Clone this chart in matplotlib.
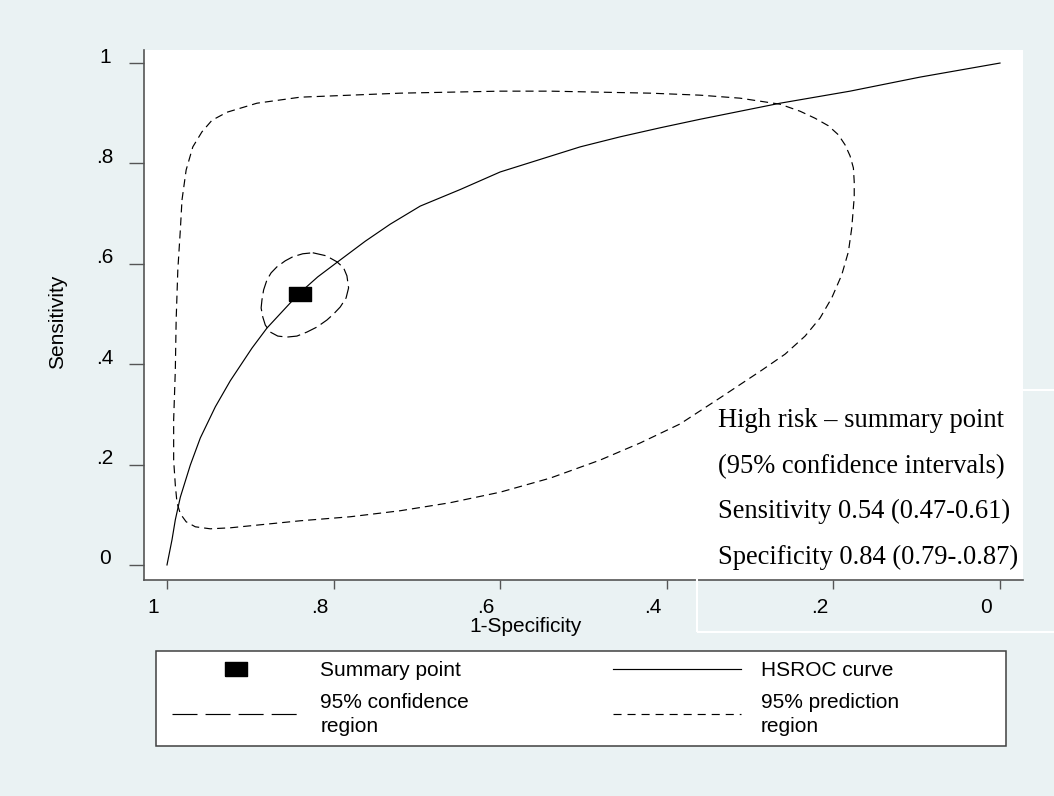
import matplotlib
matplotlib.use("Agg")
import matplotlib.pyplot as plt
import matplotlib.transforms as mtransforms
from matplotlib.lines import Line2D
from matplotlib.patches import Rectangle

matplotlib.rc('font', family='Liberation Sans', size=15)
matplotlib.rcParams['lines.scale_dashes'] = False

# HSROC curve: specificity (x, reversed axis) and sensitivity
hsroc_spec = [1.000, 0.994, 0.990, 0.984, 0.972, 0.960, 0.942, 0.924, 0.898, 0.880,
              0.861, 0.842, 0.819, 0.795, 0.762, 0.732, 0.696, 0.648, 0.600, 0.504,
              0.456, 0.408, 0.360, 0.312, 0.264, 0.180, 0.096, 0.000]
hsroc_sens = [0.000, 0.050, 0.090, 0.135, 0.199, 0.253, 0.315, 0.367, 0.432, 0.472,
              0.506, 0.540, 0.574, 0.604, 0.645, 0.679, 0.715, 0.748, 0.783, 0.833,
              0.853, 0.871, 0.888, 0.904, 0.920, 0.944, 0.972, 1.000]

# summary operating point
summary_spec = [0.84]
summary_sens = [0.54]

# 95% confidence region around the summary point
conf_spec = [0.825, 0.809, 0.796, 0.788, 0.784, 0.782, 0.785, 0.792, 0.800, 0.808,
             0.820, 0.832, 0.844, 0.856, 0.867, 0.876, 0.882, 0.885, 0.887, 0.886,
             0.884, 0.880, 0.875, 0.868, 0.858, 0.849, 0.837, 0.825]
conf_sens = [0.622, 0.616, 0.604, 0.592, 0.576, 0.552, 0.532, 0.514, 0.500, 0.488,
             0.474, 0.464, 0.456, 0.454, 0.456, 0.464, 0.478, 0.494, 0.512, 0.528,
             0.548, 0.568, 0.582, 0.594, 0.606, 0.614, 0.620, 0.622]

# 95% prediction region
pred_spec = [0.982, 0.977, 0.969, 0.958, 0.946, 0.928, 0.892, 0.840, 0.780, 0.720,
             0.660, 0.600, 0.540, 0.480, 0.420, 0.360, 0.312, 0.264, 0.240, 0.222,
             0.206, 0.194, 0.186, 0.180, 0.176, 0.175, 0.175, 0.178, 0.182, 0.190,
             0.202, 0.216, 0.234, 0.258, 0.286, 0.336, 0.384, 0.432, 0.480, 0.540,
             0.600, 0.660, 0.720, 0.780, 0.840, 0.888, 0.924, 0.948, 0.966, 0.977,
             0.984, 0.988, 0.990, 0.992, 0.992, 0.990, 0.989, 0.987, 0.984, 0.982]
pred_sens = [0.727, 0.787, 0.833, 0.863, 0.886, 0.902, 0.920, 0.932, 0.936, 0.940,
             0.942, 0.944, 0.944, 0.942, 0.940, 0.936, 0.930, 0.918, 0.904, 0.890,
             0.875, 0.857, 0.837, 0.815, 0.791, 0.763, 0.733, 0.671, 0.624, 0.578,
             0.532, 0.492, 0.456, 0.420, 0.388, 0.333, 0.281, 0.243, 0.209, 0.173,
             0.145, 0.124, 0.108, 0.096, 0.088, 0.080, 0.074, 0.072, 0.076, 0.086,
             0.102, 0.124, 0.159, 0.209, 0.289, 0.388, 0.488, 0.588, 0.667, 0.727]

ticks = [1, 0.8, 0.6, 0.4, 0.2, 0]
tick_labels = ["1", ".8", ".6", ".4", ".2", "0"]

note_lines = ["High risk \u2013 summary point",
              "(95% confidence intervals)",
              "Sensitivity 0.54 (0.47-0.61)",
              "Specificity 0.84 (0.79-.0.87)"]

W, H = 1054, 796
bg = '#EAF2F3'
axis_col = '#555555'
lw = 0.85
rect_marker = [(-1, -0.61), (1, -0.61), (1, 0.61), (-1, 0.61), (-1, -0.61)]

fig = plt.figure(figsize=(W / 100, H / 100), dpi=100, facecolor=bg)
ax = fig.add_axes([144 / W, 1 - 580 / H, (1023 - 144) / W, (580 - 50) / H])
ax.set_facecolor('white')

ax.plot(pred_spec, pred_sens, color='black', lw=lw, dashes=(5.8, 3.6), zorder=2.6)
ax.plot(hsroc_spec, hsroc_sens, color='black', lw=lw, zorder=2.6)
ax.plot(conf_spec, conf_sens, color='black', lw=lw, dashes=(9.4, 3.6), zorder=2.6)
ax.plot(summary_spec, summary_sens, ls='none', marker=rect_marker, ms=16.5,
        color='black', zorder=5)

ax.set_xlim(1.0276, -0.0276)
ax.set_ylim(-0.030, 1.026)
for side in ['top', 'right']:
    ax.spines[side].set_visible(False)
for side in ['left', 'bottom']:
    ax.spines[side].set_color(axis_col)
    ax.spines[side].set_linewidth(1.2)

ax.set_xticks(ticks)
ax.set_xticklabels(tick_labels)
ax.set_yticks(ticks)
ax.set_yticklabels(tick_labels)
ax.tick_params(axis='x', length=6.5, width=1.0, color=axis_col, pad=6.5, labelsize=15)
ax.tick_params(axis='y', length=10.8, width=1.0, color=axis_col, pad=17.3, labelsize=15)

# nudge tick labels: x labels sit left of their ticks, y labels a bit above
dx = mtransforms.ScaledTranslation(-14 / 100, 0, fig.dpi_scale_trans)
dy = mtransforms.ScaledTranslation(0, 8 / 100, fig.dpi_scale_trans)
for lbl in ax.get_xticklabels():
    lbl.set_transform(lbl.get_transform() + dx)
for lbl in ax.get_yticklabels():
    lbl.set_transform(lbl.get_transform() + dy)
    lbl.set_ha('center')

fig.text(526 / W, 1 - 627 / H, "1-Specificity", ha='center', va='center', fontsize=15)
fig.text(58 / W, 1 - 322 / H, "Sensitivity", ha='center', va='center',
         rotation=90, fontsize=15)

# summary note, its white frame runs over the x axis but under the curves
for i, line in enumerate(note_lines):
    fig.text(718 / W, 1 - (427 + 45.7 * i) / H, line, ha='left', va='baseline',
             family='Liberation Serif', fontsize=19.1)
ax.add_patch(Rectangle((697 / W, 1 - 632 / H), (1070 - 697) / W, (632 - 390) / H,
                       transform=fig.transFigure, fill=False, edgecolor='white',
                       lw=1.5, clip_on=False, zorder=2.55))

# legend
fig.patches.append(Rectangle((156 / W, 1 - 746 / H), (1006 - 156) / W, (746 - 651) / H,
                             transform=fig.transFigure, facecolor='white',
                             edgecolor='#404040', lw=1.1, zorder=1))
handles = [
    Line2D([], [], ls='none', marker=rect_marker, ms=16.5, color='black'),
    Line2D([], [], color='black', lw=lw, dashes=(18, 5.8)),
    Line2D([], [], color='black', lw=lw),
    Line2D([], [], color='black', lw=lw, dashes=(5.8, 4.3)),
]
labels = ["Summary point", "95% confidence\nregion", "HSROC curve", "95% prediction\nregion"]
leg = fig.legend(handles, labels, ncol=2, frameon=False, loc='upper left',
                 bbox_to_anchor=(172 / W, 1 - 661 / H), borderpad=0, borderaxespad=0,
                 handlelength=6.15, handletextpad=0.96, columnspacing=6.9,
                 labelspacing=0.6, fontsize=15)
for t in leg.get_texts():
    t.set_linespacing(1.36)
leg.set_zorder(2)

fig.savefig("out.png", dpi=100, facecolor=bg)
